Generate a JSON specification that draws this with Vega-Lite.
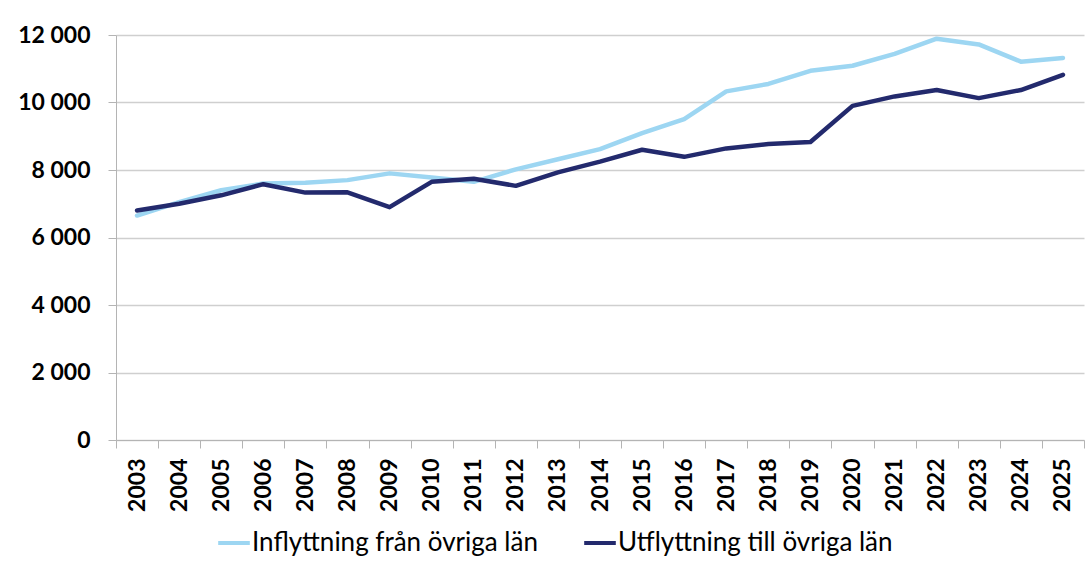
{
  "$schema": "https://vega.github.io/schema/vega-lite/v6.json",
  "width": 968,
  "height": 405,
  "autosize": {"type": "none"},
  "padding": {"left": 116, "top": 35, "right": 8, "bottom": 128},
  "background": "#ffffff",
  "data": {
    "values": [
      {"year": "2003", "series": "Inflyttning från övriga län", "value": 6650},
      {"year": "2004", "series": "Inflyttning från övriga län", "value": 7050},
      {"year": "2005", "series": "Inflyttning från övriga län", "value": 7400},
      {"year": "2006", "series": "Inflyttning från övriga län", "value": 7600},
      {"year": "2007", "series": "Inflyttning från övriga län", "value": 7625},
      {"year": "2008", "series": "Inflyttning från övriga län", "value": 7700},
      {"year": "2009", "series": "Inflyttning från övriga län", "value": 7900},
      {"year": "2010", "series": "Inflyttning från övriga län", "value": 7780},
      {"year": "2011", "series": "Inflyttning från övriga län", "value": 7650},
      {"year": "2012", "series": "Inflyttning från övriga län", "value": 8020},
      {"year": "2013", "series": "Inflyttning från övriga län", "value": 8320},
      {"year": "2014", "series": "Inflyttning från övriga län", "value": 8620},
      {"year": "2015", "series": "Inflyttning från övriga län", "value": 9090},
      {"year": "2016", "series": "Inflyttning från övriga län", "value": 9510},
      {"year": "2017", "series": "Inflyttning från övriga län", "value": 10330},
      {"year": "2018", "series": "Inflyttning från övriga län", "value": 10550},
      {"year": "2019", "series": "Inflyttning från övriga län", "value": 10940},
      {"year": "2020", "series": "Inflyttning från övriga län", "value": 11090},
      {"year": "2021", "series": "Inflyttning från övriga län", "value": 11440},
      {"year": "2022", "series": "Inflyttning från övriga län", "value": 11890},
      {"year": "2023", "series": "Inflyttning från övriga län", "value": 11720},
      {"year": "2024", "series": "Inflyttning från övriga län", "value": 11210},
      {"year": "2025", "series": "Inflyttning från övriga län", "value": 11320},
      {"year": "2003", "series": "Utflyttning till övriga län", "value": 6800},
      {"year": "2004", "series": "Utflyttning till övriga län", "value": 7000},
      {"year": "2005", "series": "Utflyttning till övriga län", "value": 7250},
      {"year": "2006", "series": "Utflyttning till övriga län", "value": 7580},
      {"year": "2007", "series": "Utflyttning till övriga län", "value": 7330},
      {"year": "2008", "series": "Utflyttning till övriga län", "value": 7340},
      {"year": "2009", "series": "Utflyttning till övriga län", "value": 6900},
      {"year": "2010", "series": "Utflyttning till övriga län", "value": 7650},
      {"year": "2011", "series": "Utflyttning till övriga län", "value": 7740},
      {"year": "2012", "series": "Utflyttning till övriga län", "value": 7530},
      {"year": "2013", "series": "Utflyttning till övriga län", "value": 7930},
      {"year": "2014", "series": "Utflyttning till övriga län", "value": 8250},
      {"year": "2015", "series": "Utflyttning till övriga län", "value": 8600},
      {"year": "2016", "series": "Utflyttning till övriga län", "value": 8390},
      {"year": "2017", "series": "Utflyttning till övriga län", "value": 8640},
      {"year": "2018", "series": "Utflyttning till övriga län", "value": 8770},
      {"year": "2019", "series": "Utflyttning till övriga län", "value": 8830},
      {"year": "2020", "series": "Utflyttning till övriga län", "value": 9900},
      {"year": "2021", "series": "Utflyttning till övriga län", "value": 10180},
      {"year": "2022", "series": "Utflyttning till övriga län", "value": 10370},
      {"year": "2023", "series": "Utflyttning till övriga län", "value": 10130},
      {"year": "2024", "series": "Utflyttning till övriga län", "value": 10370},
      {"year": "2025", "series": "Utflyttning till övriga län", "value": 10820}
    ]
  },
  "mark": {"type": "line", "strokeWidth": 4.5, "strokeCap": "round", "strokeJoin": "round"},
  "encoding": {
    "x": {
      "field": "year",
      "type": "ordinal",
      "bandPosition": 0.5,
      "scale": {"type": "band", "paddingInner": 0, "paddingOuter": 0},
      "axis": {
        "title": null,
        "labelAngle": -90,
        "labelFont": "Lato",
        "labelFontWeight": "bold",
        "labelFontSize": 23,
        "labelColor": "#000000",
        "tickBand": "extent",
        "tickSize": 8,
        "tickColor": "#b4b4b4",
        "domainColor": "#b4b4b4",
        "labelPadding": 10,
        "grid": false
      }
    },
    "y": {
      "field": "value",
      "type": "quantitative",
      "scale": {"domain": [0, 12000], "nice": false},
      "axis": {
        "title": null,
        "values": [0, 2000, 4000, 6000, 8000, 10000, 12000],
        "labelExpr": "replace(format(datum.value, ','), ',', ' ')",
        "labelFont": "Lato",
        "labelFontWeight": "bold",
        "labelFontSize": 23,
        "labelColor": "#000000",
        "grid": true,
        "gridColor": "#cfcfcf",
        "gridWidth": 1.5,
        "domainColor": "#b4b4b4",
        "tickColor": "#b4b4b4",
        "tickSize": 8,
        "labelPadding": 18
      }
    },
    "color": {
      "field": "series",
      "type": "nominal",
      "scale": {
        "domain": ["Inflyttning från övriga län", "Utflyttning till övriga län"],
        "range": ["#9dd6f2", "#232a6d"]
      },
      "legend": {
        "title": null,
        "orient": "none",
        "legendX": 100,
        "legendY": 490,
        "direction": "horizontal",
        "padding": 0,
        "symbolType": "stroke",
        "symbolSize": 1000,
        "symbolStrokeWidth": 4,
        "labelFont": "Lato",
        "labelFontSize": 26,
        "labelColor": "#000000",
        "labelOffset": 0,
        "labelLimit": 500,
        "columnPadding": 38
      }
    }
  },
  "config": {"view": {"stroke": null}}
}
